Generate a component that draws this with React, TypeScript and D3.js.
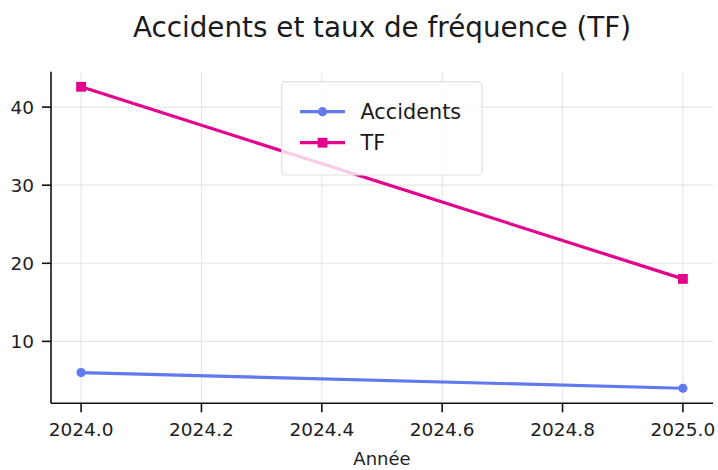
import React from "react";
import * as d3 from "d3";

const years = [2024, 2025];
const accidents = [6, 4];
const tf = [42.6, 18];
const xTicks = [2024.0, 2024.2, 2024.4, 2024.6, 2024.8, 2025.0];
const yTicks = [10, 20, 30, 40];
const seriesNames = ["Accidents", "TF"];
const seriesColors = ["#6079F0", "#E3008C"];

const W = 718;
const H = 470;
const FONT = "DejaVu Sans, sans-serif";

export default function App() {
  const left = 51, right = 713, top = 71.7, bottom = 403.3;
  const all = [...accidents, ...tf];
  const ymin = d3.min(all)!, ymax = d3.max(all)!;
  const ypad = (ymax - ymin) * 0.05;
  const x = d3.scaleLinear().domain([2024 - 0.05, 2025 + 0.05]).range([left, right]);
  const y = d3.scaleLinear().domain([ymin - ypad, ymax + ypad]).range([bottom, top]);
  const line = d3.line<number>().x((_, i) => x(years[i])).y((d) => y(d));
  const series = [accidents, tf];
  const grid = "#e6e6e6";

  return (
    <svg width={W} height={H} style={{ position: "absolute", left: 0, top: 0, background: "#fff" }} fontFamily={FONT}>
      <rect width={W} height={H} fill="#fff" />
      <text x={(left + right) / 2} y={37} textAnchor="middle" fontSize={27.8} fill="#1a1a1a">
        Accidents et taux de fréquence (TF)
      </text>
      {/* grid */}
      {xTicks.map((t) => (
        <line key={"gx" + t} x1={x(t)} x2={x(t)} y1={top} y2={bottom} stroke={grid} strokeWidth={1.2} />
      ))}
      {yTicks.map((t) => (
        <line key={"gy" + t} x1={left} x2={right} y1={y(t)} y2={y(t)} stroke={grid} strokeWidth={1.2} />
      ))}
      {/* series */}
      {series.map((s, si) => (
        <g key={si}>
          <path d={line(s) || ""} fill="none" stroke={seriesColors[si]} strokeWidth={3.2} />
          {s.map((v, i) =>
            si === 0 ? (
              <circle key={i} cx={x(years[i])} cy={y(v)} r={4.6} fill={seriesColors[si]} />
            ) : (
              <rect key={i} x={x(years[i]) - 4.9} y={y(v) - 4.9} width={9.8} height={9.8} fill={seriesColors[si]} />
            )
          )}
        </g>
      ))}
      {/* axes */}
      <line x1={left} x2={left} y1={top} y2={bottom} stroke="#111" strokeWidth={1.6} />
      <line x1={left} x2={right} y1={bottom} y2={bottom} stroke="#111" strokeWidth={1.6} />
      {xTicks.map((t) => (
        <g key={"xt" + t}>
          <line x1={x(t)} x2={x(t)} y1={bottom} y2={bottom + 9} stroke="#111" strokeWidth={1.6} />
          <text x={x(t)} y={435.5} textAnchor="middle" fontSize={18.5} fill="#222">
            {t.toFixed(1)}
          </text>
        </g>
      ))}
      {yTicks.map((t) => (
        <g key={"yt" + t}>
          <line x1={left - 9} x2={left} y1={y(t)} y2={y(t)} stroke="#111" strokeWidth={1.6} />
          <text x={34} y={y(t)} dy="0.36em" textAnchor="end" fontSize={18.5} fill="#222">
            {t}
          </text>
        </g>
      ))}
      <text x={(left + right) / 2} y={465} textAnchor="middle" fontSize={18} fill="#222">
        Année
      </text>
      {/* legend */}
      <g>
        <rect x={281.7} y={81.7} width={200.3} height={93.3} rx={4} fill="#fff" fillOpacity={0.8} stroke="#e0e0e0" strokeWidth={1.2} />
        {seriesNames.map((n, i) => {
          const ly = i === 0 ? 111.7 : 142.7;
          return (
            <g key={n}>
              <line x1={300} x2={345} y1={ly} y2={ly} stroke={seriesColors[i]} strokeWidth={3.2} />
              {i === 0 ? (
                <circle cx={322.5} cy={ly} r={4.6} fill={seriesColors[i]} />
              ) : (
                <rect x={322.5 - 4.9} y={ly - 4.9} width={9.8} height={9.8} fill={seriesColors[i]} />
              )}
              <text x={360.5} y={ly} dy="0.36em" fontSize={20.8} fill="#1a1a1a">
                {n}
              </text>
            </g>
          );
        })}
      </g>
    </svg>
  );
}
